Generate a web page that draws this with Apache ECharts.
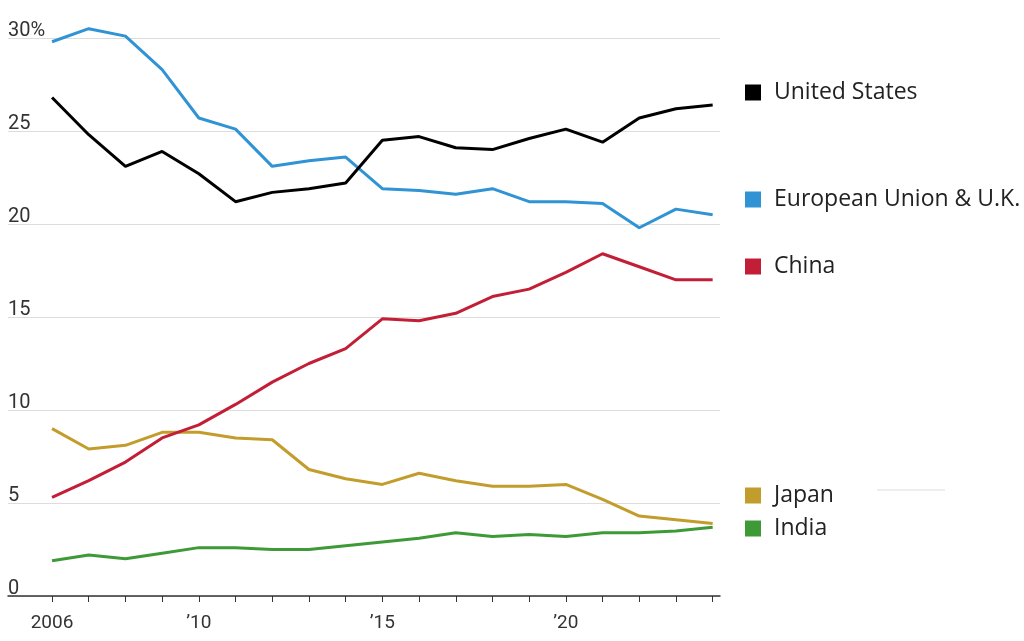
<!DOCTYPE html>
<html>
<head>
<meta charset="utf-8">
<script src="https://cdn.jsdelivr.net/npm/echarts@6/dist/echarts.min.js"></script>
<style>
html,body{margin:0;padding:0;background:#fff;}
#chart{width:1024px;height:641px;}
</style>
</head>
<body>
<div id="chart"></div>
<script>
const years = [2006,2007,2008,2009,2010,2011,2012,2013,2014,2015,2016,2017,2018,2019,2020,2021,2022,2023,2024];
const xTickLabels = [2006, 2010, 2015, 2020];
const yTicks = [0, 5, 10, 15, 20, 25, 30];
const seriesNames = ['United States', 'European Union & U.K.', 'China', 'Japan', 'India'];
const us    = [26.8, 24.8, 23.1, 23.9, 22.7, 21.2, 21.7, 21.9, 22.2, 24.5, 24.7, 24.1, 24.0, 24.6, 25.1, 24.4, 25.7, 26.2, 26.4];
const eu    = [29.8, 30.5, 30.1, 28.3, 25.7, 25.1, 23.1, 23.4, 23.6, 21.9, 21.8, 21.6, 21.9, 21.2, 21.2, 21.1, 19.8, 20.8, 20.5];
const china = [5.3, 6.2, 7.2, 8.5, 9.2, 10.3, 11.5, 12.5, 13.3, 14.9, 14.8, 15.2, 16.1, 16.5, 17.4, 18.4, 17.7, 17.0, 17.0];
const japan = [9.0, 7.9, 8.1, 8.8, 8.8, 8.5, 8.4, 6.8, 6.3, 6.0, 6.6, 6.2, 5.9, 5.9, 6.0, 5.2, 4.3, 4.1, 3.9];
const india = [1.9, 2.2, 2.0, 2.3, 2.6, 2.6, 2.5, 2.5, 2.7, 2.9, 3.1, 3.4, 3.2, 3.3, 3.2, 3.4, 3.4, 3.5, 3.7];

const colors = {
  'United States': '#000000',
  'European Union & U.K.': '#2f93d4',
  'China': '#c21f36',
  'Japan': '#c29d2c',
  'India': '#3e9a36'
};
const values = {
  'United States': us,
  'European Union & U.K.': eu,
  'China': china,
  'Japan': japan,
  'India': india
};
const legendTops = {
  'United States': 76,
  'European Union & U.K.': 183,
  'China': 250,
  'Japan': 479,
  'India': 512
};
const drawOrder = ['European Union & U.K.', 'United States', 'Japan', 'China', 'India'];

const FONT = 'Roboto, "Liberation Sans", sans-serif';
const LEGEND_FONT = '"Open Sans", "Noto Sans", sans-serif';

const chart = echarts.init(document.getElementById('chart'), null, {renderer: 'canvas'});

const option = {
  animation: false,
  backgroundColor: '#ffffff',
  textStyle: {fontFamily: FONT},
  grid: {left: 8, right: 304, top: 38, bottom: 45, containLabel: false},
  xAxis: {
    type: 'value',
    min: 2004.8,
    max: 2024.2,
    splitLine: {show: false},
    axisLine: {show: true, lineStyle: {color: '#333333', width: 1.5}},
    axisTick: {show: true, customValues: years, length: 6, lineStyle: {color: '#333333', width: 1}},
    axisLabel: {
      customValues: xTickLabels,
      margin: 18,
      fontSize: 19,
      color: '#333333',
      fontFamily: FONT,
      formatter: function (v) { return v === 2006 ? '2006' : '\u2019' + String(v).slice(2); }
    }
  },
  yAxis: {
    type: 'value',
    min: 0,
    max: 30,
    interval: 5,
    axisLine: {show: false},
    axisTick: {show: false},
    splitLine: {show: true, lineStyle: {color: '#dddddd', width: 1}},
    axisLabel: {
      inside: true,
      margin: 0,
      fontSize: 20,
      lineHeight: 14,
      color: '#333333',
      fontFamily: FONT,
      verticalAlign: 'bottom',
      padding: [0, 0, 0, 0],
      customValues: yTicks,
      formatter: function (v) { return v === 30 ? '30%' : String(v); }
    }
  },
  legend: seriesNames.map(function (n) {
    return {
      data: [n],
      left: 740,
      top: legendTops[n],
      icon: 'rect',
      itemWidth: 16,
      itemHeight: 16,
      selectedMode: false,
      itemStyle: {color: colors[n]},
      textStyle: {fontSize: 23, color: '#222222', fontFamily: LEGEND_FONT, padding: [0, 0, 0, 8]}
    };
  }),
  graphic: [{
    type: 'line',
    shape: {x1: 877, y1: 490, x2: 945, y2: 490},
    style: {stroke: '#dddddd', lineWidth: 1},
    silent: true
  }],
  series: drawOrder.map(function (n) {
    return {
      name: n,
      type: 'line',
      showSymbol: false,
      symbol: 'none',
      clip: false,
      color: colors[n],
      lineStyle: {color: colors[n], width: 3},
      itemStyle: {color: colors[n]},
      data: years.map(function (y, i) { return [y, values[n][i]]; })
    };
  })
};

chart.setOption(option);
</script>
</body>
</html>
